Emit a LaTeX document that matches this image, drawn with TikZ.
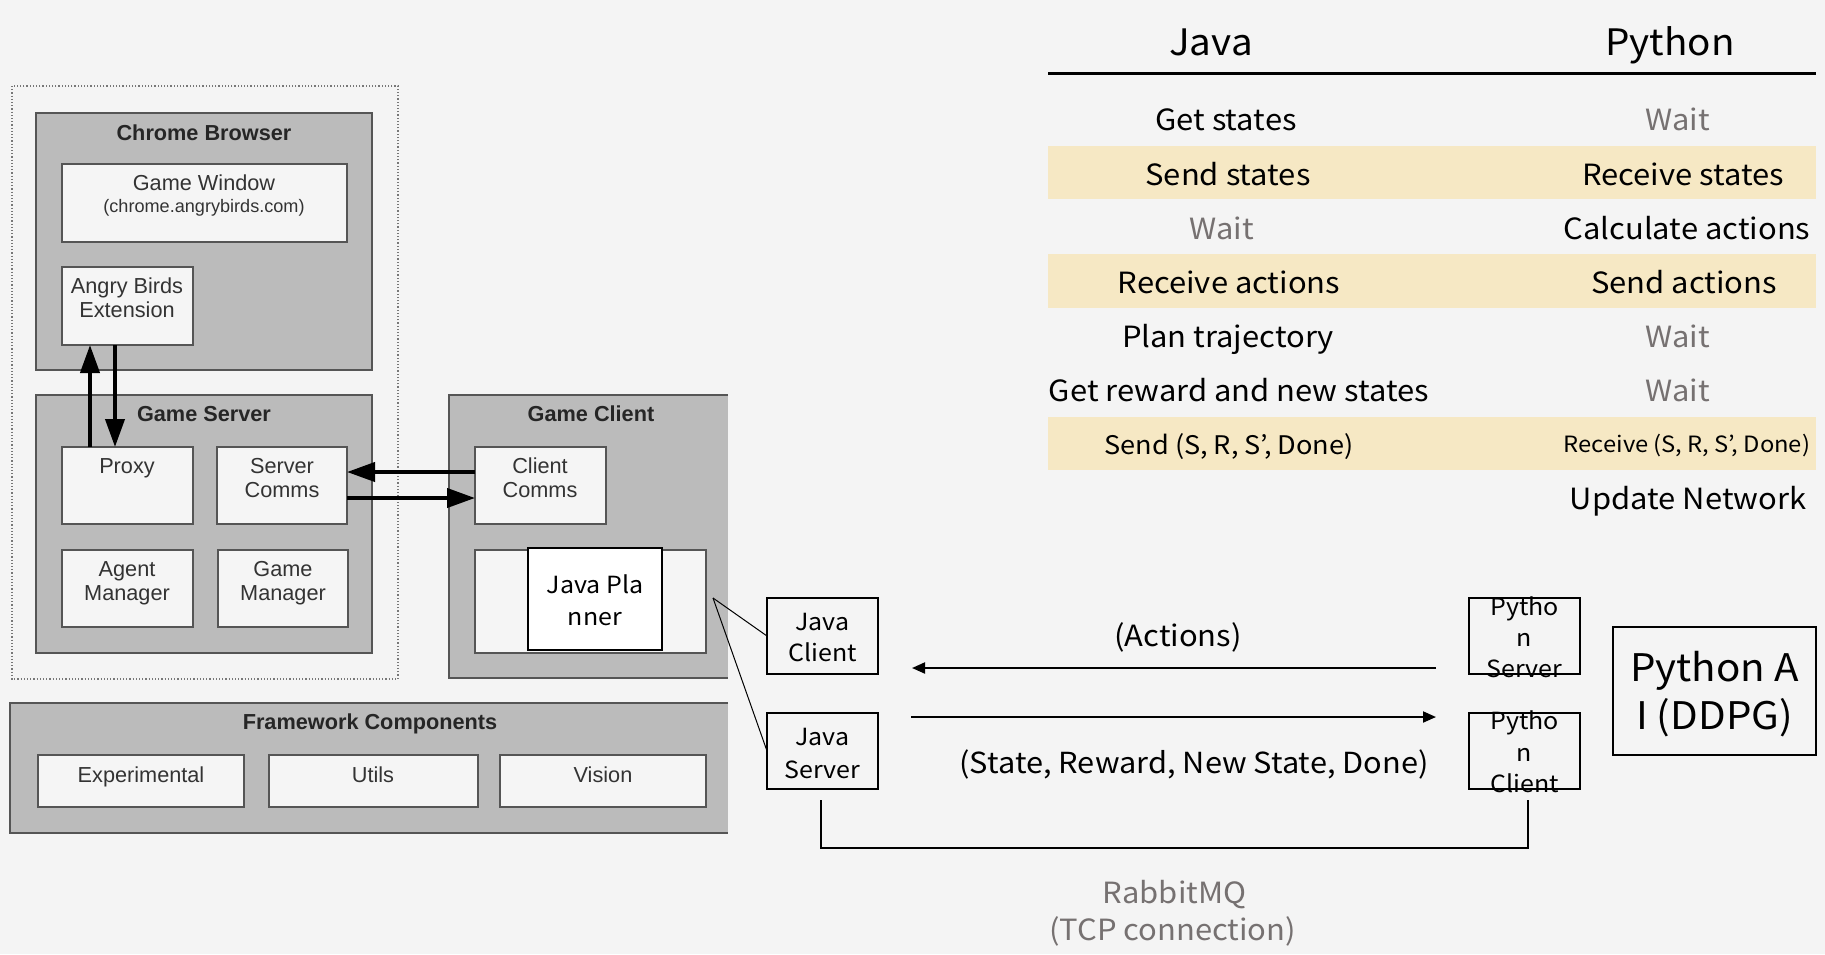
\documentclass[tikz,border=0pt]{standalone}
\usepackage{fontspec}
\setmainfont{Liberation Sans}
\newfontfamily\kfont[FakeStretch=1.06]{Noto Sans CJK KR}
\usetikzlibrary{arrows.meta}
\definecolor{bg}{HTML}{F4F4F4}
\definecolor{panel}{HTML}{BBBBBB}
\definecolor{edge}{HTML}{555555}
\definecolor{cell}{HTML}{F5F5F5}
\definecolor{band}{HTML}{F6E8C4}
\definecolor{muted}{HTML}{767171}
\definecolor{ink}{HTML}{333333}
\newcommand{\fsz}[1]{\fontsize{#1pt}{#1pt}\selectfont}
% box from top-left (x1,y1) to bottom-right (x2,y2), in pixel units
\newcommand{\bx}[6]{\node[#1, anchor=north west, minimum width={(#5-(#3))*0.5pt}, minimum height={(#6-(#4))*0.5pt}] (#2) at (#3,#4) {};}
\begin{document}
\begin{tikzpicture}[x=0.5pt,y=-0.5pt,
  every node/.style={inner sep=0pt, outer sep=0pt},
  panel/.style={fill=panel, draw=edge, line width=0.8pt},
  cellbox/.style={fill=cell, draw=edge, line width=0.8pt},
  kbox/.style={draw=black, line width=1pt},
  ttl/.style={font=\bfseries\fsz{10.85}, text=black!85, anchor=base},
  ltx/.style={font=\fsz{10.85}, text=ink, anchor=base},
  ktx/.style={font=\kfont\fsz{11.8}, anchor=base},
  tbl/.style={font=\kfont\fsz{14.6}, anchor=base},
  tblw/.style={tbl, text=muted},
  hdr/.style={font=\kfont\fsz{18.2}, anchor=base},
  heavy/.style={line width=2pt, -{Triangle[length=14pt, width=9.5pt]}},
  flow/.style={line width=1pt, -{Triangle[length=6.5pt, width=5.5pt]}},
  thinlink/.style={line width=0.5pt},
]
\fill[bg] (0,0) rectangle (1825,954);
\useasboundingbox (0,0) rectangle (1825,954);

% ---------- framework architecture ----------
\draw[edge!80, densely dotted, line width=0.6pt] (12,86) rectangle (398,679);

\bx{panel}{chrome}{36}{113}{372}{370}
\node[ttl] (chromet) at (204,140) {Chrome Browser};
\bx{cellbox}{gwin}{62}{164}{347}{242}
\node[ltx] (gwint) at (204,190) {Game Window};
\node[ltx, font=\fsz{9.05}] (gwinu) at (204,212) {(chrome.angrybirds.com)};
\bx{cellbox}{ext}{62}{267}{193}{345}
\node[ltx] (extt1) at (127,293.5) {Angry Birds};
\node[ltx] (extt2) at (127,317.5) {Extension};

\bx{panel}{gserver}{36}{395}{372}{653}
\node[ttl] (gservert) at (204,421.5) {Game Server};
\bx{cellbox}{proxy}{62}{447}{193}{524}
\node[ltx] (proxyt) at (127,473.5) {Proxy};
\bx{cellbox}{scomms}{217}{447}{347}{524}
\node[ltx] (scommst1) at (282,473.5) {Server};
\node[ltx] (scommst2) at (282,497) {Comms};
\bx{cellbox}{agent}{62}{550}{193}{627}
\node[ltx] (agentt1) at (127,576) {Agent};
\node[ltx] (agentt2) at (127,600) {Manager};
\bx{cellbox}{gman}{218}{550}{348}{627}
\node[ltx] (gmant1) at (283,576) {Game};
\node[ltx] (gmant2) at (283,600) {Manager};

\bx{fill=panel}{gclient}{449}{395}{728}{678}
\draw[edge, line width=0.8pt] (gclient.north east) -| (gclient.south west) -- (gclient.south east);
\node[ttl] (gclientt) at (591,421.5) {Game Client};
\bx{cellbox}{ccomms}{475}{447}{606}{524}
\node[ltx] (ccommst1) at (540,473.5) {Client};
\node[ltx] (ccommst2) at (540,497) {Comms};
\bx{cellbox}{planner}{475}{550}{706}{653}
\bx{kbox, fill=white}{jplanner}{528}{548}{662}{650}
\node[ktx] (jplannert1) at (595,593.5) {Java Pla};
\node[ktx] (jplannert2) at (595,625) {nner};

\bx{fill=panel}{frame}{10}{703}{728}{833}
\draw[edge, line width=0.8pt] (frame.north east) -| (frame.south west) -- (frame.south east);
\node[ttl] (framet) at (370,729.5) {Framework Components};
\bx{cellbox}{exper}{38}{755}{244}{807}
\node[ltx] (expert) at (141,782) {Experimental};
\bx{cellbox}{utils}{269}{755}{478}{807}
\node[ltx] (utilst) at (373,782) {Utils};
\bx{cellbox}{vision}{500}{755}{706}{807}
\node[ltx] (visiont) at (603,782) {Vision};

% message paths inside the framework
\draw[heavy] ([xshift=14pt]proxy.north west) -- ([xshift=14pt]ext.south west);
\draw[heavy] ([xshift=26.5pt]ext.south west) -- ([xshift=26.5pt]proxy.north west);
\draw[heavy] ([yshift=-12.5pt]ccomms.north west) -- ([yshift=-12.5pt]scomms.north east);
\draw[heavy] ([yshift=-25.5pt]scomms.north east) -- ([yshift=-25.5pt]ccomms.north west);

% ---------- Java / Python bridge ----------
\coordinate (tap) at (713,598);
\bx{kbox}{jclient}{767}{598}{878}{674}
\node[ktx] (jclientt1) at (822.5,630) {Java};
\node[ktx] (jclientt2) at (822.5,661.5) {Client};
\bx{kbox}{jserver}{767}{713}{878}{789}
\node[ktx] (jservert1) at (822.5,745) {Java};
\node[ktx] (jservert2) at (822.5,778) {Server};
\draw[thinlink] (tap) -- (jclient.west);
\draw[thinlink] (tap) -- (jserver.west);

\bx{kbox}{pserver}{1469}{598}{1580}{674}
\node[ktx] (pservert1) at (1524.5,615) {Pytho};
\node[ktx] (pservert2) at (1524.5,646) {n};
\node[ktx] (pservert3) at (1524.5,677.5) {Server};
\bx{kbox}{pclient}{1469}{713}{1580}{789}
\node[ktx] (pclientt1) at (1524.5,729.5) {Pytho};
\node[ktx] (pclientt2) at (1524.5,761) {n};
\node[ktx] (pclientt3) at (1524.5,792.5) {Client};
\bx{kbox}{pai}{1613}{627}{1816}{755}
\node[hdr, font=\kfont\fsz{19}] (pait1) at (1714.5,681.5) {Python A};
\node[hdr, font=\kfont\fsz{19}] (pait2) at (1714.5,729.5) {I (DDPG)};

\coordinate (actfrom) at (1436,668);
\coordinate (actto) at (912,668);
\draw[flow] (actfrom) -- (actto);
\node[font=\kfont\fsz{14.6}, anchor=base] (actl) at (1178,646) {(Actions)};
\coordinate (stfrom) at (911,717);
\coordinate (stto) at (1436,717);
\draw[flow] (stfrom) -- (stto);
\node[font=\kfont\fsz{14.5}, anchor=base] (stl) at (1194,773.5) {(State, Reward, New State, Done)};

\coordinate (mqa) at (821,800);
\coordinate (mqm) at (1174,848);
\coordinate (mqb) at (1528,800);
\draw[line width=0.75pt] (mqa) |- (mqm) -| (mqb);
\node[font=\kfont\fsz{14.6}, text=muted, anchor=base] (mq1) at (1174.5,903.5) {RabbitMQ};
\node[font=\kfont\fsz{14.6}, text=muted, anchor=base] (mq2) at (1172.5,940) {(TCP connection)};

% ---------- step table ----------
\node[hdr] (hj) at (1211,55) {Java};
\node[hdr] (hp) at (1670,55) {Python};
\draw[line width=1.5pt] (1048,73) -- (1816,73);
\fill[band] (1048,146) rectangle (1816,199);
\fill[band] (1048,254) rectangle (1816,308);
\fill[band] (1048,417) rectangle (1816,470);

\node[tbl]  (r1j) at (1226,130) {Get states};
\node[tblw] (r1p) at (1678,130) {Wait};
\node[tbl]  (r2j) at (1228,185) {Send states};
\node[tbl]  (r2p) at (1683,185) {Receive states};
\node[tblw] (r3j) at (1222,239) {Wait};
\node[tbl]  (r3p) at (1687,239) {Calculate actions};
\node[tbl]  (r4j) at (1229,293) {Receive actions};
\node[tbl]  (r4p) at (1684,293) {Send actions};
\node[tbl]  (r5j) at (1228,347) {Plan trajectory};
\node[tblw] (r5p) at (1678,347) {Wait};
\node[tbl]  (r6j) at (1239,401) {Get reward and new states};
\node[tblw] (r6p) at (1678,401) {Wait};
\node[tbl, font=\kfont\fsz{12.8}]  (r7j) at (1229,454) {Send (S, R, S’, Done)};
\node[tbl, font=\kfont\fsz{11.2}] (r7p) at (1687,452.5) {Receive (S, R, S’, Done)};
\node[tbl]  (r8p) at (1688,509) {Update Network};
\end{tikzpicture}
\end{document}
